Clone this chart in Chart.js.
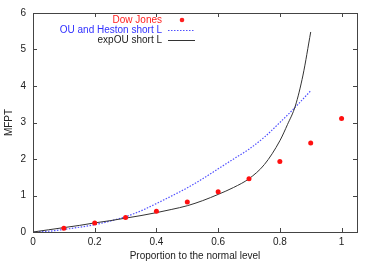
<!DOCTYPE html>
<html><head><meta charset="utf-8">
<script src="https://cdn.jsdelivr.net/npm/chart.js@4"></script>
<style>html,body{margin:0;padding:0;background:#fff}#w{width:374px;height:262px}</style>
</head><body><div id="w"><canvas id="c"></canvas></div>
<script>
const dowX = [0.1,0.2,0.3,0.4,0.5,0.6,0.7,0.8,0.9,1.0];
const dowY = [0.10,0.25,0.40,0.57,0.82,1.10,1.46,1.93,2.44,3.11];
const ouX = [0,0.05,0.1,0.15,0.2,0.25,0.3,0.35,0.4,0.45,0.5,0.55,0.6,0.65,0.7,0.75,0.8,0.85,0.9];
const ouY = [0,0.02,0.07,0.13,0.20,0.30,0.42,0.58,0.78,0.99,1.21,1.46,1.73,2.00,2.27,2.60,3.00,3.42,3.87];
const expX = [0,0.05,0.1,0.15,0.2,0.25,0.3,0.35,0.4,0.45,0.5,0.55,0.6,0.65,0.7,0.75,0.8,0.825,0.85,0.875,0.9];
const expY = [0,0.06,0.12,0.18,0.25,0.31,0.38,0.45,0.53,0.62,0.72,0.86,1.03,1.22,1.46,1.85,2.50,2.95,3.45,4.30,5.48];
const xTicks = [0,0.2,0.4,0.6,0.8,1];
const yTicks = [0,1,2,3,4,5,6];
const labels = ["Dow Jones","OU and Heston short L","expOU short L"];
const xTitle = "Proportion to the normal level";
const yTitle = "MFPT";

const pts = (xs, ys) => xs.map((x, i) => ({x: x, y: ys[i]}));
const FONT = "'Liberation Sans', Arial, sans-serif";

const frame = {
  id: 'frame',
  afterDraw(chart) {
    const {ctx, chartArea: a, scales: {x, y}} = chart;
    ctx.save();
    ctx.strokeStyle = '#444';
    ctx.lineWidth = 1;
    ctx.strokeRect(Math.round(a.left) + 0.5, Math.round(a.top) + 0.5, Math.round(a.right - a.left), Math.round(a.bottom - a.top));
    ctx.beginPath();
    const L = 4;
    xTicks.forEach(v => {
      const px = Math.round(x.getPixelForValue(v)) + 0.5;
      ctx.moveTo(px, a.bottom); ctx.lineTo(px, a.bottom - L);
      ctx.moveTo(px, a.top); ctx.lineTo(px, a.top + L);
    });
    yTicks.forEach(v => {
      const py = Math.round(y.getPixelForValue(v)) + 0.5;
      ctx.moveTo(a.left, py); ctx.lineTo(a.left + L, py);
      ctx.moveTo(a.right, py); ctx.lineTo(a.right - L, py);
    });
    ctx.stroke();
    // legend
    ctx.font = '10px ' + FONT;
    ctx.textAlign = 'right';
    ctx.textBaseline = 'middle';
    const tx = 162, sx0 = 168, sx1 = 195;
    const rows = [20, 30, 40];
    ctx.fillStyle = '#ff2020'; ctx.fillText(labels[0], tx, rows[0]);
    ctx.beginPath(); ctx.arc(182, rows[0], 2.3, 0, Math.PI * 2); ctx.fill();
    ctx.fillStyle = '#3030ff'; ctx.fillText(labels[1], tx, rows[1]);
    ctx.strokeStyle = '#5050ff'; ctx.setLineDash([1.5, 1.5]);
    ctx.beginPath(); ctx.moveTo(sx0, rows[1] + 0.5); ctx.lineTo(sx1, rows[1] + 0.5); ctx.stroke();
    ctx.setLineDash([]);
    ctx.fillStyle = '#222'; ctx.fillText(labels[2], tx, rows[2]);
    ctx.strokeStyle = '#333';
    ctx.beginPath(); ctx.moveTo(sx0, rows[2] + 0.5); ctx.lineTo(sx1, rows[2] + 0.5); ctx.stroke();
    ctx.restore();
  }
};

new Chart(document.getElementById('c'), {
  type: 'scatter',
  data: {
    datasets: [
      {label: labels[0], data: pts(dowX, dowY), showLine: false, pointRadius: 2.5, pointBackgroundColor: '#ff1010', pointBorderWidth: 0, order: 0},
      {label: labels[1], data: pts(ouX, ouY), showLine: true, borderColor: '#5050ff', borderWidth: 1.2, borderDash: [1.5, 1.5], pointRadius: 0, cubicInterpolationMode: 'monotone', order: 2},
      {label: labels[2], data: pts(expX, expY), showLine: true, borderColor: '#333', borderWidth: 1, pointRadius: 0, cubicInterpolationMode: 'monotone', order: 1}
    ]
  },
  options: {
    responsive: true, maintainAspectRatio: false, animation: false,
    layout: {padding: {left: 0, right: 17, top: 12, bottom: 0}},
    plugins: {legend: {display: false}, tooltip: {enabled: false}},
    scales: {
      x: {
        type: 'linear', min: 0, max: 1.05,
        afterBuildTicks: s => { s.ticks = xTicks.map(v => ({value: v})); },
        afterFit: s => { s.height = 30; },
        grid: {display: false, drawTicks: false},
        border: {display: false},
        ticks: {padding: 4, color: '#222', font: {family: FONT, size: 10}, callback: v => String(v)},
        title: {display: true, text: xTitle, color: '#222', font: {family: FONT, size: 10}, padding: {top: 2, bottom: 0}}
      },
      y: {
        type: 'linear', min: 0, max: 6,
        afterBuildTicks: s => { s.ticks = yTicks.map(v => ({value: v})); },
        afterFit: s => { s.width = 33; },
        grid: {display: false, drawTicks: false},
        border: {display: false},
        ticks: {padding: 7, color: '#222', font: {family: FONT, size: 10}},
        title: {display: true, text: yTitle, color: '#222', font: {family: FONT, size: 10}, padding: {top: 3, bottom: 0}}
      }
    }
  },
  plugins: [frame]
});
</script></body></html>
